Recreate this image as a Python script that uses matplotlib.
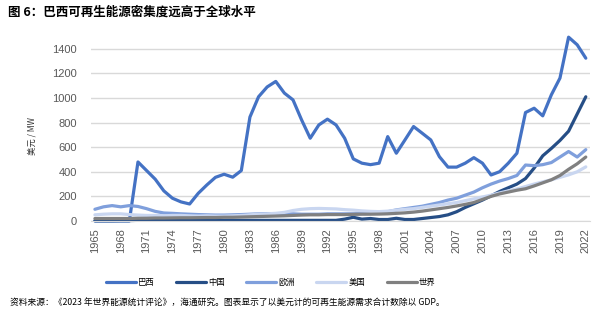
import matplotlib.pyplot as plt
import numpy as np

years = list(range(1965, 2023))

brazil = [0, 0, 0, 0, 0,
          480, 410, 340, 245, 185, 155, 138, 225, 293, 355,
          380, 356, 410, 845, 1010, 1090, 1135, 1040, 985, 822,
          673, 781, 828, 781, 673, 505, 470, 458, 470, 686,
          551, 659, 768, 714, 659, 523, 438, 438, 470, 515,
          470, 374, 401, 470, 551, 882, 917, 855, 1026, 1162,
          1495, 1433, 1324]
china = [2, 2, 2, 3, 3,
         5, 5, 5, 5, 5, 5, 5, 5, 5, 5,
         5, 5, 5, 5, 5, 5, 5, 5, 5, 5,
         5, 5, 5, 5, 15, 30, 15, 20, 12, 12,
         22, 12, 12, 20, 28, 36, 50, 75, 110, 140,
         170, 205, 240, 270, 300, 345, 430, 530, 590, 655,
         730, 870, 1010]
europe = [95, 115, 125, 115, 125,
          118, 100, 78, 65, 62, 58, 55, 52, 50, 48,
          48, 50, 52, 55, 58, 60, 60, 60, 58, 55,
          55, 55, 58, 58, 58, 58, 60, 62, 68, 75,
          90, 100, 110, 120, 135, 150, 170, 185, 210, 235,
          270, 300, 325, 345, 370, 455, 450, 458, 475, 520,
          565, 520, 580]
usa = [50, 55, 58, 58, 52,
       48, 45, 45, 42, 45, 45, 42, 40, 42, 40,
       40, 42, 45, 50, 55, 58, 62, 70, 85, 95,
       100, 102, 100, 98, 92, 88, 82, 78, 76, 80,
       88, 95, 100, 110, 120, 130, 140, 150, 165, 180,
       195, 210, 228, 245, 260, 280, 300, 318, 335, 355,
       375, 400, 440]
world = [20, 20, 20, 20, 20,
         22, 22, 24, 24, 25, 26, 26, 27, 28, 28,
         30, 30, 32, 34, 36, 38, 40, 42, 45, 48,
         50, 50, 52, 52, 52, 54, 55, 55, 56, 58,
         62, 66, 72, 80, 90, 100, 110, 122, 135, 150,
         175, 200, 220, 235, 250, 262, 285, 310, 335, 370,
         420, 465, 520]

names = ['巴西', '中国', '欧洲', '美国', '世界']
colors = ['#4472C4', '#264E86', '#7F9FDC', '#C9D6F0', '#808080']
yticks = [0, 200, 400, 600, 800, 1000, 1200, 1400]

cjk = ['Noto Sans CJK SC', 'DejaVu Sans']

fig = plt.figure(figsize=(6.04, 3.24), dpi=100)
ax = fig.add_axes([0.150, 0.318, 0.827, 0.592])

for vals, name, c in zip([brazil, china, europe, usa, world], names, colors):
    ax.plot(years, vals, color=c, lw=2.3, label=name, clip_on=False,
            solid_joinstyle='round', solid_capstyle='round')

ax.set_xlim(1964.5, 2022.5)
ax.set_ylim(0, 1560)
ax.set_yticks(yticks)
ax.set_xticks(years[::3])
ax.set_xticklabels([str(y) for y in years[::3]], rotation=90)
ax.yaxis.grid(True, color='#d9d9d9', lw=1)
ax.set_axisbelow(True)
for s in ['top', 'right', 'left']:
    ax.spines[s].set_visible(False)
ax.spines['bottom'].set_color('#d9d9d9')
ax.tick_params(length=0, labelsize=8, labelcolor='#595959')
ax.tick_params(axis='y', pad=10)
ax.tick_params(axis='x', pad=5)
for t in ax.get_xticklabels() + ax.get_yticklabels():
    t.set_family('Liberation Sans')

# y axis title sits apart from the tick labels
fig.text(0.053, 0.58, '美元 / MW', rotation=90, ha='center', va='center',
         fontsize=6, family=cjk, color='#333333')

fig.text(0.013, 0.962, '图 6：巴西可再生能源密集度远高于全球水平', fontsize=9,
         weight='bold', family=cjk, va='center')

fig.text(0.016, 0.068, '资料来源：《2023 年世界能源统计评论》，海通研究。图表显示了以美元计的可再生能源需求合计数除以 GDP。',
         fontsize=6.3, family=cjk, va='center')

fig.legend(loc='center', bbox_to_anchor=(0.448, 0.127), ncol=5, frameon=False,
           prop={'family': cjk, 'size': 6}, handlelength=3.6,
           handletextpad=0.2, columnspacing=2.6)

plt.savefig('out.png', dpi=100)
